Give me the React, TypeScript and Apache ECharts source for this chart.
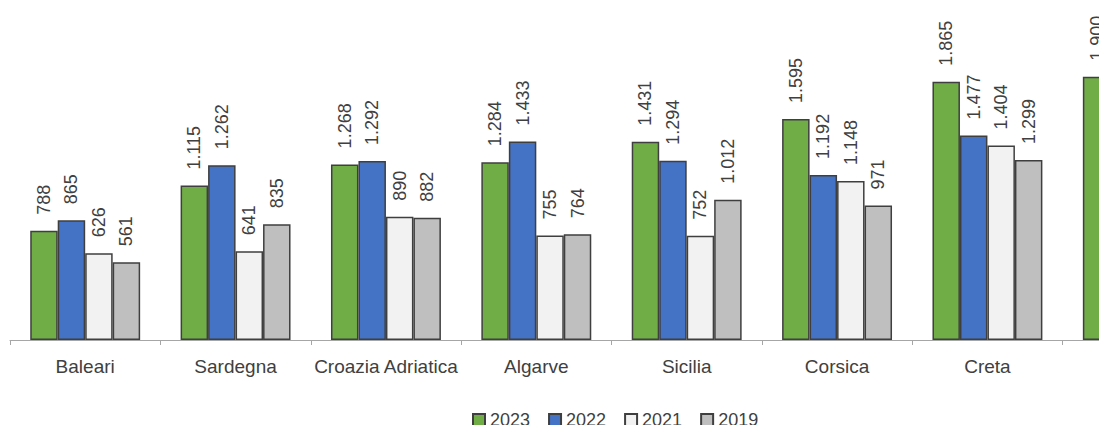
import React, { useEffect, useRef } from "react";
import * as echarts from "echarts";

const categories = ["Baleari", "Sardegna", "Croazia Adriatica", "Algarve", "Sicilia", "Corsica", "Creta", "Cipro"];
const years = ["2023", "2022", "2021", "2019"];
const values2023 = [788, 1115, 1268, 1284, 1431, 1595, 1865, 1900];
const values2022 = [865, 1262, 1292, 1433, 1294, 1192, 1477, 1520];
const values2021 = [626, 641, 890, 755, 752, 1148, 1404, 1380];
const values2019 = [561, 835, 882, 764, 1012, 971, 1299, 1250];
const colors = ["#70AD47", "#4472C4", "#F2F2F2", "#BFBFBF"];

const FONT = "'Liberation Sans', Arial, sans-serif";

function fmt(v: number): string {
  return String(v).replace(/\B(?=(\d{3})+(?!\d))/g, ".");
}

export default function App() {
  const ref = useRef<HTMLDivElement>(null);
  useEffect(() => {
    if (!ref.current) return;
    const chart = echarts.init(ref.current, null, { renderer: "svg" });
    const data = [values2023, values2022, values2021, values2019];
    chart.setOption({
      animation: false,
      backgroundColor: "#ffffff",
      textStyle: { fontFamily: FONT },
      grid: {
        left: 10,
        top: 63,
        width: 1203,
        height: 277,
        containLabel: false,
        outerBoundsMode: "none",
      },
      legend: {
        left: 467,
        top: 406,
        itemWidth: 12,
        itemHeight: 12,
        itemGap: 18,
        icon: "rect",
        textStyle: { fontSize: 18, lineHeight: 18, color: "#404040", fontFamily: FONT },
        data: years,
      },
      xAxis: {
        type: "category",
        data: categories,
        axisLine: { lineStyle: { color: "#A6A6A6", width: 1 } },
        axisTick: { show: true, length: 5, lineStyle: { color: "#A6A6A6" } },
        axisLabel: { fontSize: 19, color: "#404040", margin: 17, fontFamily: FONT, interval: 0 },
      },
      yAxis: {
        type: "value",
        min: 0,
        max: 2000,
        show: false,
        splitLine: { show: false },
      },
      series: years.map((y, i) => ({
        name: y,
        type: "bar",
        data: data[i],
        barGap: "0%",
        barCategoryGap: "26.9%",
        itemStyle: { color: colors[i], borderColor: "#3F3F3F", borderWidth: 1.5 },
        label: {
          show: true,
          position: "top",
          rotate: 90,
          align: "left",
          verticalAlign: "middle",
          distance: 16,
          fontSize: 18,
          color: "#404040",
          fontFamily: FONT,
          formatter: (p: any) => fmt(p.value),
        },
      })),
    });
    return () => chart.dispose();
  }, []);
  return (
    <div
      ref={ref}
      style={{ position: "fixed", left: 0, top: 0, width: 1099, height: 425 }}
    />
  );
}
